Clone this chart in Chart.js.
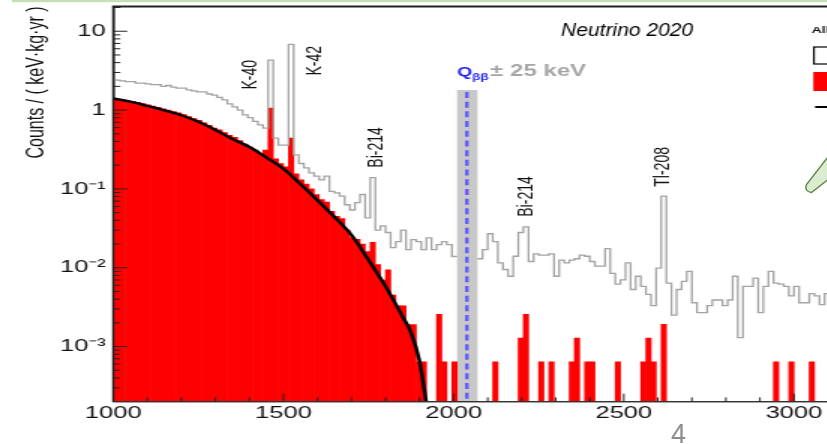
<!DOCTYPE html>
<html><head><meta charset="utf-8">
<script src="https://cdn.jsdelivr.net/npm/chart.js@4/dist/chart.umd.min.js"></script>
<style>
html,body{margin:0;padding:0;background:#fff;overflow:hidden;width:827px;height:444px}
#wrap{position:absolute;left:0;top:0;width:552px;height:444px;transform:scaleX(1.5);transform-origin:0 0}
#slide{position:absolute;left:0;top:0}
</style></head>
<body>
<div id="wrap"><canvas id="c" width="552" height="444"></canvas></div>
<svg id="slide" width="827" height="444" xmlns="http://www.w3.org/2000/svg">
  <rect x="12" y="0" width="815" height="2.2" fill="#c6dfb2"/>
  <path d="M 834 149 L 806.5 184.5 Q 804 191.5 811.5 192.5 L 834 175 Z" fill="#dcebd2" stroke="#5d8743" stroke-width="1.4"/>
  <text x="671" y="443" font-family="Liberation Sans, Arial, sans-serif" font-size="27" fill="#8c8c8c">4</text>
</svg>
<script>
// ---------------- data ----------------
const BIN_WIDTH = 15;          // keV
const FIRST_BIN = 990;         // low edge of first bin (keV)

// all events (grey outline histogram), counts/(keV kg yr); null = blinded window
const allEvents = [
  2.45, 2.4, 2.35, 2.3, 2.3, 2.2, 2.2, 2.15, 2.1, 2.1,
  2.0, 2.05, 1.95, 1.9, 1.9, 1.8, 1.75, 1.7, 1.7, 1.6,
  1.55, 1.45, 1.35, 1.2, 1.1, 1.0, 0.87, 0.80, 0.72, 0.65,
  0.59, 4.3, 0.44, 0.36, 0.36, 6.8, 0.27, 0.21, 0.185, 0.16,
  0.145, 0.13, 0.145, 0.093, 0.089, 0.081, 0.063, 0.054, 0.067, 0.085,
  0.043, 0.139, 0.030, 0.034, 0.028, 0.018, 0.0215, 0.030, 0.017, 0.0227,
  0.0215, 0.017, 0.024, 0.017, 0.0196, 0.0215, 0.0196, 0.0139, null, null,
  null, null, 0.013, 0.017, 0.027, 0.0215, 0.0115, 0.0095, 0.0078, 0.014,
  0.028, 0.033, 0.012, 0.015, 0.0145, 0.0145, 0.015, 0.0078, 0.0125, 0.0115,
  0.0125, 0.013, 0.0145, 0.014, 0.012, 0.0105, 0.0105, 0.0175, 0.0085, 0.0062,
  0.007, 0.0115, 0.0053, 0.0078, 0.0058, 0.0046, 0.0033, 0.0099, 0.081, 0.0064,
  0.0025, 0.0053, 0.0067, 0.009, 0.0036, 0.0027, 0.0027, 0.0033, 0.0039, 0.0039,
  0.0033, 0.0039, 0.0078, 0.0013, 0.0058, 0.0058, 0.0074, 0.0027, 0.0058, 0.009,
  0.0064, 0.0062, 0.0058, 0.0044, 0.0058, 0.0036, 0.0036, 0.0047, 0.0044, 0.0034, 0.0047
];

// after LAr veto (red filled histogram); null = empty bin
const afterLArVeto = [
  1.42, 1.38, 1.35, 1.32, 1.29, 1.25, 1.21, 1.17, 1.12, 1.08,
  1.04, 1.0, 0.96, 0.92, 0.88, 0.83, 0.78, 0.74, 0.69, 0.64,
  0.59, 0.56, 0.52, 0.48, 0.45, 0.41, 0.37, 0.34, 0.31, 0.28,
  0.31, 1.06, 0.24, 0.21, 0.19, 0.44, 0.155, 0.13, 0.115, 0.10,
  0.085, 0.073, 0.068, 0.052, 0.045, 0.042, 0.030, 0.024, 0.023, 0.020,
  0.016, 0.021, 0.011, 0.0070, 0.0094, 0.0045, 0.0033, 0.0033, 0.0019, 0.0019,
  0.00064, 0.00064, null, null, 0.00256, 0.00064, null, 0.00064, null, null,
  null, null, null, null, null, 0.00064, null, null, null, null,
  0.00128, 0.00256, null, null, 0.00064, null, 0.00064, null, null, null,
  0.00064, 0.00128, null, 0.00064, 0.00064, null, null, null, null, 0.00064,
  null, null, null, null, 0.00064, 0.00128, 0.00064, null, 0.00192, null,
  null, null, null, null, null, null, null, null, null, null,
  null, null, null, null, null, null, null, null, null, null,
  0.00064, null, null, 0.00064, null, null, null, 0.00064, null, null, null
];

// 2nbb model curve
const modelEnergy = [1000,1050,1100,1150,1200,1250,1300,1350,1400,1450,1500,1550,1600,1650,1700,1750,1800,1850,1875,1900,1910,1920];
const modelValue  = [1.40,1.28,1.13,0.99,0.86,0.71,0.56,0.43,0.34,0.25,0.18,0.115,0.072,0.044,0.026,0.0125,0.0058,0.0024,0.0015,0.00065,0.00036,0.00019];

// axes
const X_MIN = 1000, X_MAX = 3100;
const Y_MIN = 2e-4, Y_MAX = 20.6;
const xTickValues = [1000, 1500, 2000, 2500, 3000];
const xTickLabels = ['1000', '1500', '2000', '2500', '3000'];
const yTickValues = [0.001, 0.01, 0.1, 1, 10];
const yTickLabels = ['10\u207B\u00B3', '10\u207B\u00B2', '10\u207B\u00B9', '1', '10'];

// peak annotations (label anchor: energy, value at text start)
const peakNames  = ['K-40', 'K-42', 'Bi-214', 'Bi-214', 'Tl-208'];
const peakLabelE = [1402, 1593, 1776, 2214, 2614];
const peakLabelY = [1.82, 2.74, 0.186, 0.0444, 0.1067];

// Q_bb window
const QBB = 2039;
const blindWindow = [2010, 2070];
const BAND_TOP = 1.8;
const QLABEL_Y = 2.74;
const NOTE_E = 2316, NOTE_Y = 8.69;

// ---------------- build datasets ----------------
const binLow = allEvents.map((_, i) => FIRST_BIN + i * BIN_WIDTH);
const greyPts = [];
allEvents.forEach((v, i) => {
  const lo = binLow[i], hi = lo + BIN_WIDTH;
  if (v == null) { greyPts.push({x: lo, y: null}); return; }
  greyPts.push({x: lo, y: v}, {x: hi, y: v});
});
const redPts = afterLArVeto.map((v, i) => ({x: binLow[i] + BIN_WIDTH / 2, y: v}));
const modelPts = modelEnergy.map((e, i) => ({x: e, y: modelValue[i]}));

const FONT = '"Liberation Sans", Arial, Helvetica, sans-serif';

const decor = {
  id: 'decor',
  beforeDatasetsDraw(chart) {
    const {ctx, chartArea: a, scales: {x, y}} = chart;
    ctx.save();
    ctx.beginPath(); ctx.rect(a.left, a.top, a.right - a.left, a.bottom - a.top); ctx.clip();
    const x0 = x.getPixelForValue(blindWindow[0]), x1 = x.getPixelForValue(blindWindow[1]);
    const yt = y.getPixelForValue(BAND_TOP);
    ctx.fillStyle = '#c8c8c8';
    ctx.fillRect(x0, yt, x1 - x0, a.bottom - yt);
    const xq = x.getPixelForValue(QBB);
    ctx.strokeStyle = '#5a5aff'; ctx.lineWidth = 2.3; ctx.setLineDash([6, 3.7]);
    ctx.beginPath(); ctx.moveTo(xq, yt + 2); ctx.lineTo(xq, a.bottom); ctx.stroke();
    ctx.restore();
  },
  afterDatasetsDraw(chart) {
    const {ctx, chartArea: a, scales: {x, y}} = chart;
    ctx.save();
    // frame
    ctx.strokeStyle = '#222';
    ctx.lineWidth = 2; ctx.beginPath(); ctx.moveTo(a.left - 0.75, a.top); ctx.lineTo(a.right + 2, a.top); ctx.stroke();
    ctx.lineWidth = 1.5; ctx.beginPath(); ctx.moveTo(a.left, a.top); ctx.lineTo(a.left, a.bottom); ctx.stroke();
    ctx.strokeStyle = '#333'; ctx.lineWidth = 1.3; ctx.beginPath(); ctx.moveTo(a.left, a.bottom); ctx.lineTo(a.right, a.bottom); ctx.stroke();
    // y ticks (inside)
    ctx.strokeStyle = '#222'; ctx.lineWidth = 1;
    for (let d = -4; d <= 1; d++) for (let m = 1; m <= 9; m++) {
      const v = m * Math.pow(10, d);
      if (v <= Y_MIN * 1.01 || v > Y_MAX) continue;
      const py = y.getPixelForValue(v);
      const len = m === 1 ? 9.3 : 4.7;
      ctx.beginPath(); ctx.moveTo(a.left, py); ctx.lineTo(a.left + len, py); ctx.stroke();
    }
    // x ticks (inside)
    for (let e = X_MIN; e < X_MAX; e += 100) {
      const px = x.getPixelForValue(e);
      const len = e % 500 === 0 ? 8 : 4.3;
      ctx.beginPath(); ctx.moveTo(px, a.bottom); ctx.lineTo(px, a.bottom - len); ctx.stroke();
    }
    // peak labels
    ctx.fillStyle = '#111';
    ctx.font = '14px ' + FONT;
    ctx.textAlign = 'left'; ctx.textBaseline = 'middle';
    peakNames.forEach((name, i) => {
      const px = x.getPixelForValue(peakLabelE[i]), py = y.getPixelForValue(peakLabelY[i]);
      ctx.save(); ctx.translate(px, py); ctx.rotate(-Math.PI / 2); ctx.fillText(name, 0, 0); ctx.restore();
    });
    // Q_bb label
    ctx.textBaseline = 'alphabetic';
    const qx = x.getPixelForValue(blindWindow[0]), qy = y.getPixelForValue(QLABEL_Y);
    ctx.fillStyle = '#1f1fff'; ctx.font = 'bold 13px ' + FONT;
    ctx.fillText('Q', qx, qy);
    let w = ctx.measureText('Q').width;
    ctx.font = 'bold 9px ' + FONT;
    ctx.fillText('\u03B2\u03B2', qx + w, qy + 4);
    w += ctx.measureText('\u03B2\u03B2').width + 1;
    ctx.fillStyle = '#a6a6a6'; ctx.font = 'bold 16px ' + FONT;
    ctx.fillText('\u00B1 25 keV', qx + w, qy);
    // conference note
    ctx.save();
    ctx.translate(x.getPixelForValue(NOTE_E), y.getPixelForValue(NOTE_Y));
    ctx.scale(0.8, 1);
    ctx.fillStyle = '#000'; ctx.font = 'italic 17.5px ' + FONT;
    ctx.fillText('Neutrino 2020', 0, 0);
    ctx.restore();
    // legend (cut by the right edge)
    ctx.fillStyle = '#111'; ctx.font = 'bold 9.5px ' + FONT;
    ctx.fillText('All detectors', 541, 33.3);
    ctx.strokeStyle = '#000'; ctx.lineWidth = 1.2;
    ctx.strokeRect(542.6, 47, 14, 17);
    ctx.fillStyle = '#ff0000'; ctx.fillRect(542.2, 72, 14, 19);
    ctx.lineWidth = 2; ctx.beginPath(); ctx.moveTo(543.4, 107); ctx.lineTo(560, 107); ctx.stroke();
    ctx.restore();
  }
};

new Chart(document.getElementById('c'), {
  type: 'line',
  data: {
    datasets: [
      {type: 'line', label: '2\u03BD\u03B2\u03B2 model', data: modelPts, borderColor: '#000', borderWidth: 2.5,
       pointRadius: 0, cubicInterpolationMode: 'monotone', clip: 0, order: 0},
      {type: 'line', label: 'before LAr veto', data: greyPts, borderColor: '#a3a3a3', borderWidth: 1.3,
       pointRadius: 0, tension: 0, spanGaps: false, clip: 0, order: 1},
      {type: 'bar', label: 'after LAr veto', data: redPts, backgroundColor: '#ff0000', borderWidth: 0,
       barPercentage: 1, categoryPercentage: 1, clip: 0, order: 2}
    ]
  },
  options: {
    responsive: false,
    devicePixelRatio: 1,
    animation: false,
    events: [],
    layout: {padding: {top: 6.5, left: 0, right: 0, bottom: 0}, autoPadding: false},
    plugins: {legend: {display: false}, tooltip: {enabled: false}},
    scales: {
      x: {
        type: 'linear', min: X_MIN, max: X_MAX, offset: false,
        afterBuildTicks: s => { s.ticks = xTickValues.map(v => ({value: v})); },
        afterFit: s => { s.height = 42.3; s.paddingLeft = 0; s.paddingRight = 0; },
        grid: {display: false, drawTicks: false},
        border: {display: true, color: '#333', width: 1.3},
        ticks: {autoSkip: false, maxRotation: 0, padding: 1, color: '#111',
                font: {family: 'Liberation Sans', size: 17},
                callback: (v, i) => xTickLabels[i]}
      },
      y: {
        type: 'logarithmic', min: Y_MIN, max: Y_MAX,
        afterBuildTicks: s => { s.ticks = yTickValues.map(v => ({value: v})); },
        afterFit: s => { s.width = 75.53; s.paddingTop = 0; s.paddingBottom = 0; },
        grid: {display: false, drawTicks: false},
        border: {display: true, color: '#222', width: 1.5},
        ticks: {autoSkip: false, padding: 5, color: '#111',
                font: {family: 'Liberation Sans', size: 17},
                callback: (v, i) => yTickLabels[i]},
        title: {display: true, text: 'Counts / ( keV\u00B7kg\u00B7yr )', align: 'end', color: '#111',
                font: {family: 'Liberation Sans', size: 16}, padding: {top: 15.4, bottom: 0}}
      }
    }
  },
  plugins: [decor]
});
</script>
</body></html>
